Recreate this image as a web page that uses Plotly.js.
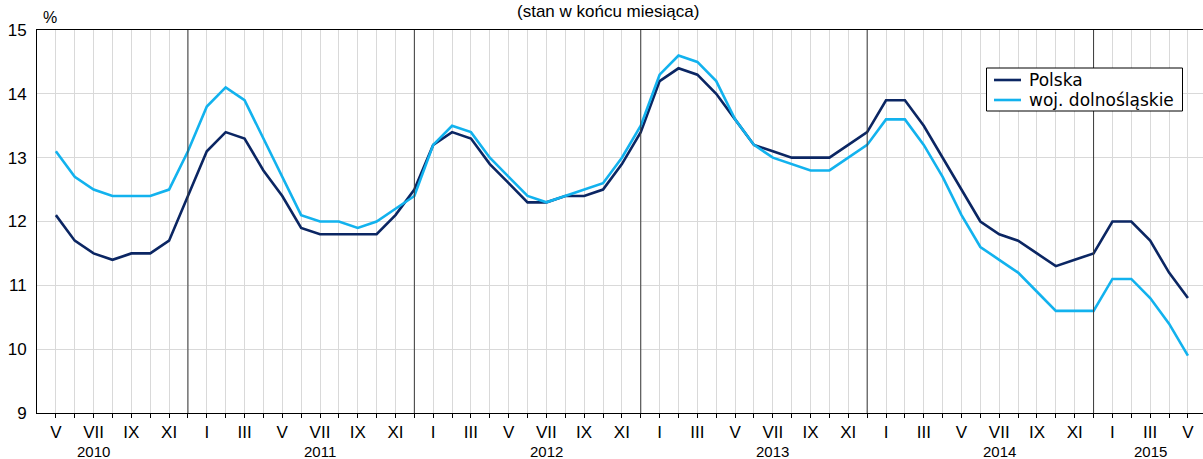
<!DOCTYPE html>
<html>
<head>
<meta charset="utf-8">
<script src="https://cdn.plot.ly/plotly-3.0.1.min.js"></script>
<style>
  html, body { margin: 0; padding: 0; background: #ffffff; }
  #chart { width: 1203px; height: 459px; }
</style>
</head>
<body>
<div id="chart"></div>
<script>
// Months V 2010 .. V 2015 (Roman numerals)
const months = [
  'V','VI','VII','VIII','IX','X','XI','XII',
  'I','II','III','IV','V','VI','VII','VIII','IX','X','XI','XII',
  'I','II','III','IV','V','VI','VII','VIII','IX','X','XI','XII',
  'I','II','III','IV','V','VI','VII','VIII','IX','X','XI','XII',
  'I','II','III','IV','V','VI','VII','VIII','IX','X','XI','XII',
  'I','II','III','IV','V'
];
const monthYears = [
  2010,2010,2010,2010,2010,2010,2010,2010,
  2011,2011,2011,2011,2011,2011,2011,2011,2011,2011,2011,2011,
  2012,2012,2012,2012,2012,2012,2012,2012,2012,2012,2012,2012,
  2013,2013,2013,2013,2013,2013,2013,2013,2013,2013,2013,2013,
  2014,2014,2014,2014,2014,2014,2014,2014,2014,2014,2014,2014,
  2015,2015,2015,2015,2015
];
const polska = [
  12.1, 11.7, 11.5, 11.4, 11.5, 11.5, 11.7, 12.4,
  13.1, 13.4, 13.3, 12.8, 12.4, 11.9, 11.8, 11.8, 11.8, 11.8, 12.1, 12.5,
  13.2, 13.4, 13.3, 12.9, 12.6, 12.3, 12.3, 12.4, 12.4, 12.5, 12.9, 13.4,
  14.2, 14.4, 14.3, 14.0, 13.6, 13.2, 13.1, 13.0, 13.0, 13.0, 13.2, 13.4,
  13.9, 13.9, 13.5, 13.0, 12.5, 12.0, 11.8, 11.7, 11.5, 11.3, 11.4, 11.5,
  12.0, 12.0, 11.7, 11.2, 10.8
];
const dolnoslaskie = [
  13.1, 12.7, 12.5, 12.4, 12.4, 12.4, 12.5, 13.1,
  13.8, 14.1, 13.9, 13.3, 12.7, 12.1, 12.0, 12.0, 11.9, 12.0, 12.2, 12.4,
  13.2, 13.5, 13.4, 13.0, 12.7, 12.4, 12.3, 12.4, 12.5, 12.6, 13.0, 13.5,
  14.3, 14.6, 14.5, 14.2, 13.6, 13.2, 13.0, 12.9, 12.8, 12.8, 13.0, 13.2,
  13.6, 13.6, 13.2, 12.7, 12.1, 11.6, 11.4, 11.2, 10.9, 10.6, 10.6, 10.6,
  11.1, 11.1, 10.8, 10.4, 9.9
];
const seriesNames = ['Polska', 'woj. dolnośląskie'];
const seriesColors = ['#0b2663', '#12b2ee'];
const years = [2010, 2011, 2012, 2013, 2014, 2015];
const yearLabelMonth = ['VII', 'VII', 'VII', 'VII', 'VII', 'III'];
const yTicks = [9, 10, 11, 12, 13, 14, 15];
const titleText = '(stan w końcu miesiąca)';
const unitText = '%';

const FONT = 'Liberation Sans, Arial, sans-serif';
const idx = months.map((m, i) => i);
const tickText = months.map((m, i) => (i % 2 === 0 ? m : ''));
const seriesValues = [polska, dolnoslaskie];

const traces = seriesValues.map((vals, k) => ({
  x: idx, y: vals, name: seriesNames[k], type: 'scatter', mode: 'lines',
  line: { color: seriesColors[k], width: 2.6 }, showlegend: false
}));

const shapes = [];
years.forEach(yr => {
  const i = monthYears.lastIndexOf(yr);
  if (months[i] === 'XII') {
    shapes.push({ type: 'line', xref: 'x', yref: 'paper', x0: i, x1: i, y0: 0, y1: 1,
      line: { color: '#3a3a3a', width: 1 } });
  }
});

// Plot area in pixels (for placing the legend box)
const W = 1203, H = 459, ML = 37, MR = 0, MT = 30, MB = 46;
const PW = W - ML - MR, PH = H - MT - MB;
const px = v => (v - ML) / PW;
const py = v => (H - MB - v) / PH;

const annotations = [];
// legend box
shapes.push({ type: 'rect', xref: 'paper', yref: 'paper',
  x0: px(986.5), x1: px(1182.5), y0: py(111), y1: py(68),
  fillcolor: '#ffffff', line: { color: '#000000', width: 1 } });
seriesNames.forEach((nm, k) => {
  const rowY = 80 + 20 * k;
  shapes.push({ type: 'line', xref: 'paper', yref: 'paper',
    x0: px(994), x1: px(1021), y0: py(rowY), y1: py(rowY),
    line: { color: seriesColors[k], width: 2.6 } });
  annotations.push({ x: px(1027), xref: 'paper', xanchor: 'left',
    y: py(rowY), yref: 'paper', yanchor: 'middle', text: nm, showarrow: false,
    font: { family: 'DejaVu Sans, sans-serif', size: 17, color: '#000' } });
});

years.forEach((yr, k) => {
  let i = -1;
  for (let j = 0; j < months.length; j++) {
    if (monthYears[j] === yr && months[j] === yearLabelMonth[k]) { i = j; break; }
  }
  annotations.push({ x: i, xref: 'x', y: 0, yref: 'paper', yanchor: 'middle',
    yshift: -38, text: String(yr), showarrow: false,
    font: { family: FONT, size: 15, color: '#000' } });
});
annotations.push({ x: 0, xref: 'paper', xanchor: 'center', xshift: 13,
  y: 1, yref: 'paper', yanchor: 'middle', yshift: 13, text: unitText, showarrow: false,
  font: { family: FONT, size: 16, color: '#000' } });
annotations.push({ x: 0.4897, xref: 'paper', xanchor: 'center',
  y: 1, yref: 'paper', yanchor: 'top', yshift: 30, text: titleText, showarrow: false,
  font: { family: FONT, size: 17, color: '#000' } });

const layout = {
  width: W, height: H,
  margin: { l: ML, r: MR, t: MT, b: MB },
  paper_bgcolor: '#ffffff', plot_bgcolor: '#ffffff',
  showlegend: false,
  xaxis: {
    range: [-1, 60.8],
    tickmode: 'array', tickvals: idx, ticktext: tickText,
    ticks: 'outside', ticklen: 4, tickcolor: '#000', tickwidth: 1,
    showgrid: true, gridcolor: '#d9d9d9', gridwidth: 1,
    showline: true, linecolor: '#000', linewidth: 1, mirror: true,
    zeroline: false, tickangle: 0,
    tickfont: { family: FONT, size: 17, color: '#000' }
  },
  yaxis: {
    range: [9, 15],
    tickmode: 'array', tickvals: yTicks,
    ticks: '', showgrid: true, gridcolor: '#d9d9d9', gridwidth: 1,
    showline: true, linecolor: '#000', linewidth: 1,
    zeroline: false, ticklabelstandoff: 6,
    tickfont: { family: FONT, size: 17, color: '#000' }
  },
  shapes: shapes,
  annotations: annotations,
  hovermode: false
};

Plotly.newPlot('chart', traces, layout, { displayModeBar: false, staticPlot: true });
</script>
</body>
</html>
